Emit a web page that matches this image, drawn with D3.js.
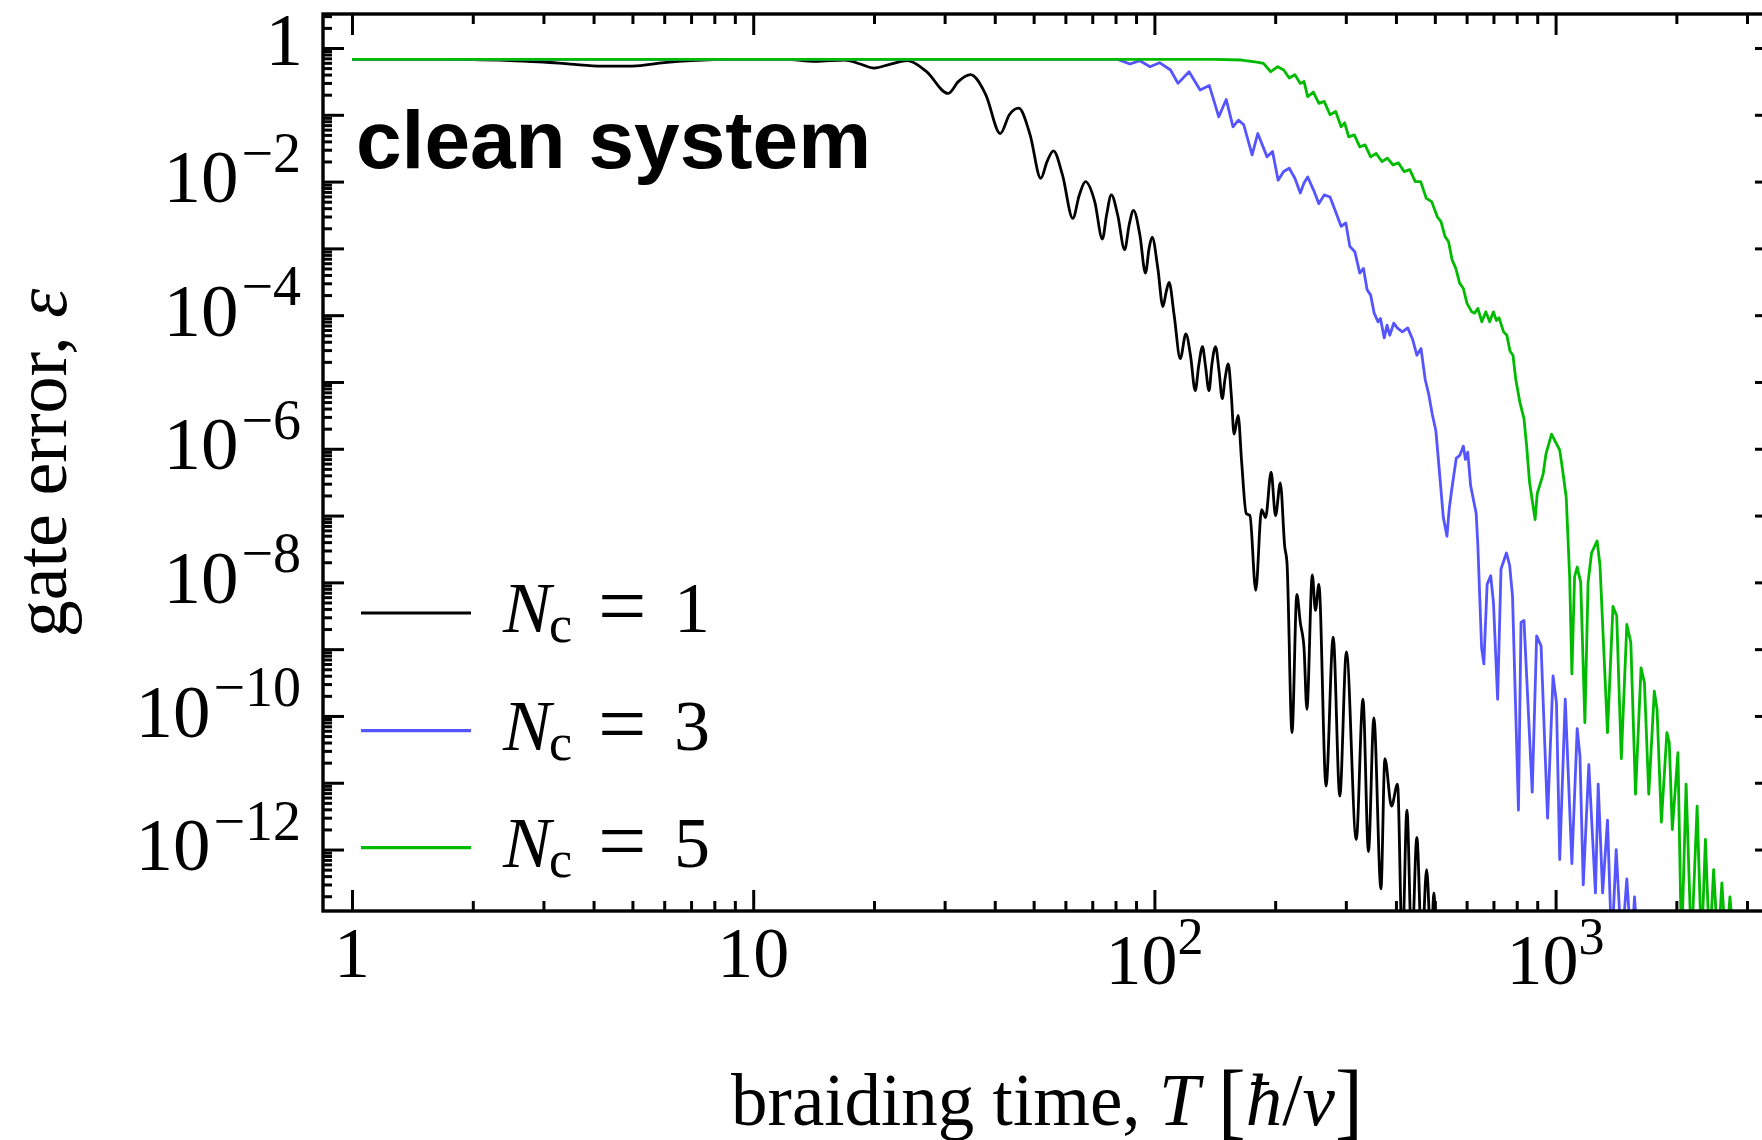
<!DOCTYPE html>
<html>
<meta charset="utf-8">

<!-- Load d3.js -->
<script src="https://d3js.org/d3.v7.js"></script>

<style>
    body { margin: 0; background: #fff; }
    text { font-family: "Liberation Serif", "Times New Roman", serif; fill: #000; }
</style>

<body>
    <div id="my_chart"></div>
    <script>

        // braiding time T [hbar/v] and log10 of the gate error
        var timeN1 = [1, 1.5, 2, 2.5, 3, 3.5, 4.2, 5, 6, 7, 8, 9, 10, 12, 14.3, 16.9, 18.5, 20, 22, 24.2,
            27, 30.6, 32.5, 34.8, 38, 41.3, 43.5, 45.9, 49, 52.1, 54, 56, 59, 62.6, 65, 67.3, 71, 74.2, 76, 78.1,
            81, 84.3, 86.5, 88.7, 92, 95, 97, 98.7, 102, 105, 107, 108.8, 112, 116, 119.8, 123, 126.4, 129, 131.8, 134,
            136.8, 139, 142, 145, 147.6, 150, 152.8, 155.5, 158, 161.7, 165, 169.4, 173, 178.9, 185, 189.3, 195.4, 200.4, 206, 211.3,
            214, 220.3, 226.5, 231, 236, 239.9, 247.5, 252, 257, 267.8, 279, 289.8, 301, 318.5, 331, 341.6, 352.4, 367, 375.4, 390,
            403.6, 415, 426, 438, 451, 464, 477, 490, 497, 504];
        var logErrN1 = [-0.17, -0.17, -0.175, -0.19, -0.21, -0.24, -0.27, -0.27, -0.22, -0.19, -0.175, -0.17, -0.17, -0.17, -0.2, -0.18, -0.24, -0.30, -0.24, -0.19,
            -0.35, -0.68, -0.50, -0.40, -0.7, -1.28, -1.0, -0.90, -1.3, -1.95, -1.7, -1.54, -1.9, -2.55, -2.2, -2.0, -2.3, -2.86, -2.5, -2.2,
            -2.5, -3.02, -2.65, -2.43, -2.8, -3.37, -3.0, -2.83, -3.3, -3.87, -3.65, -3.51, -4.0, -4.65, -4.28, -4.6, -5.13, -4.75, -4.47, -4.75,
            -5.13, -4.75, -4.47, -4.85, -5.25, -4.95, -4.73, -5.2, -5.78, -5.5, -6.2, -6.97, -7.0, -8.12, -6.91, -7.03, -6.35, -7.0, -6.51, -7.47,
            -7.7, -10.25, -8.18, -8.6, -8.98, -9.9, -7.89, -8.42, -8.03, -11.05, -8.82, -11.2, -9.04, -11.85, -9.75, -12.03, -10.03, -12.59, -10.64, -11.35,
            -11.02, -13.5, -11.41, -13.5, -11.82, -13.5, -12.3, -13.5, -12.65, -13.5];

        var timeN3 = [1, 10, 50, 81, 86.9, 92, 97.5, 103, 109.7, 114.5, 122, 130, 137, 144.7, 151, 157, 162, 167, 175.2, 181, 190.9,
            197, 203.4, 210, 216.8, 224, 231, 236, 241, 249, 257, 265, 274, 283, 292, 300, 307, 316, 325, 332, 339, 346, 353, 361, 366, 374, 380, 386, 395, 403, 415, 428, 440,
            451, 462, 473, 483, 493, 503, 512, 525, 536, 543, 551, 565.5, 577, 589, 596, 604, 614, 634, 640, 654,
            662.5, 675, 689, 700, 717, 731, 754, 768, 781, 808, 820, 834, 874.5, 897, 920, 955, 985.6, 1005, 1024, 1057,
            1098, 1132, 1150, 1172, 1210, 1257, 1277, 1310, 1347, 1380, 1416, 1460, 1505, 1545, 1573, 1605];
        var logErrN3 = [-0.17, -0.17, -0.17, -0.17, -0.24, -0.19, -0.28, -0.22, -0.33, -0.53, -0.355, -0.63, -0.56, -1.03, -0.77, -1.18, -1.08, -1.15, -1.60, -1.28, -1.63,
            -1.55, -1.98, -1.85, -1.80, -1.95, -2.17, -2.02, -1.93, -2.12, -2.33, -2.2, -2.23, -2.45, -2.67, -2.62, -2.97, -3.05, -3.37, -3.3, -3.62, -3.7, -3.97, -4.10, -4.05, -4.34, -4.15, -4.30, -4.12, -4.19, -4.25, -4.19, -4.36,
            -4.60, -4.5, -4.96, -5.19, -5.49, -5.73, -6.26, -7.03, -7.31, -6.9, -6.61, -6.14, -6.1, -5.96, -6.16, -6.05, -6.55, -6.97, -7.44, -8.98,
            -9.22, -8.03, -7.9, -8.3, -9.75, -7.8, -7.56, -7.74, -8.21, -11.41, -8.6, -8.57, -11.14, -8.80, -8.95, -11.53, -9.40, -9.8, -12.15, -9.75,
            -12.21, -10.19, -10.6, -12.53, -10.73, -12.65, -11.02, -12.65, -11.56, -13.5, -12.0, -13.5, -12.44, -13.5, -12.71, -13.5];

        var timeN5 = [1, 10, 100, 141.6, 165, 180, 187, 195, 203, 210, 216.8, 224, 231, 236, 241, 249, 257, 265, 274, 283,
            292, 298, 305, 315, 325, 335, 346, 357, 369, 381, 393, 406, 419, 433, 447, 461, 476, 491, 507.5, 518,
            530, 541, 552, 564, 576.5, 589, 601, 618, 628, 640, 655, 670, 685, 700, 712, 723, 742, 756, 770, 783, 795.6, 815, 834, 847,
            861, 889, 900, 931, 946, 977, 1000, 1024, 1040, 1063, 1084, 1098, 1115, 1132, 1155, 1183, 1205, 1229, 1269, 1290,
            1347, 1390, 1420, 1458, 1505, 1540, 1582, 1633, 1665, 1707, 1762, 1790, 1835, 1894, 1920, 1954, 2018, 2060, 2115, 2180,
            2253, 2310, 2363, 2420, 2477, 2540, 2597, 2660, 2720, 2790];
        var logErrN5 = [-0.17, -0.17, -0.17, -0.17, -0.18, -0.21, -0.23, -0.355, -0.28, -0.33, -0.45, -0.40, -0.53, -0.50, -0.73, -0.66, -0.83, -0.80, -1.0, -0.95,
            -1.18, -1.12, -1.33, -1.30, -1.48, -1.45, -1.63, -1.58, -1.70, -1.65, -1.75, -1.72, -1.85, -1.82, -2.0, -2.0, -2.25, -2.3, -2.53, -2.6,
            -2.82, -2.9, -3.17, -3.3, -3.52, -3.6, -3.82, -3.95, -3.97, -3.9, -4.10, -3.95, -4.1, -3.95, -4.08, -4.04, -4.25, -4.3, -4.54, -4.6, -4.96, -5.31, -5.55, -5.96,
            -6.50, -7.06, -6.67, -6.38, -6.08, -5.78, -5.90, -6.02, -6.3, -6.73, -7.92, -9.37, -7.92, -7.77, -8.0, -10.1, -8.0, -7.56, -7.38, -7.74,
            -10.25, -8.36, -8.5, -10.64, -8.63, -8.9, -11.17, -9.28, -9.5, -11.17, -9.63, -9.9, -11.59, -10.25, -10.4, -11.70, -10.55, -13.5, -11.02, -13.5,
            -11.35, -13.5, -11.85, -13.5, -12.30, -13.5, -12.50, -13.5, -12.71, -13.5];

        // legend entries, colours and curve shapes
        var seriesLabels = ["1", "3", "5"];
        var seriesColors = ["#000000", "#5555ff", "#00bb00"];
        var seriesCurves = [d3.curveMonotoneX, d3.curveLinear, d3.curveLinear];

        // tick labels
        var xTickValues = [1, 10, 100, 1000];
        var xTickBase = ["1", "10", "10", "10"];
        var xTickExp = ["", "", "2", "3"];
        var yTickValues = [1, 1e-2, 1e-4, 1e-6, 1e-8, 1e-10, 1e-12];
        var yTickBase = ["1", "10", "10", "10", "10", "10", "10"];
        var yTickExp = ["", "\u22122", "\u22124", "\u22126", "\u22128", "\u221210", "\u221212"];

        // set the dimensions and margins of the graph (right edge runs past the picture)
        var margin = { top: 14, left: 323 },
            width = 1453,
            height = 897;

        var svg = d3.select("#my_chart")
            .append("svg")
            .attr("width", 1762)
            .attr("height", 1140)
            .style("display", "block");

        var g = svg.append("g")
            .attr("transform", "translate(" + margin.left + "," + margin.top + ")");

        // scales
        var x = d3.scaleLog()
            .domain([0.8466, 3543])
            .range([0, width]);
        var y = d3.scaleLog()
            .domain([1.202e-13, 3.228])
            .range([height, 0]);

        // tick positions
        var xMinor = x.ticks().filter(function (d) { return d >= 1 && xTickValues.indexOf(d) < 0; });
        var yMajor = [];
        var yMinor = [];
        for (var e = -13; e <= 0; e++) {
            yMajor.push(Math.pow(10, e));
            for (var k = 2; k <= 9; k++) {
                var v = k * Math.pow(10, e);
                if (v > y.domain()[0] && v < y.domain()[1]) yMinor.push(v);
            }
        }
        yMajor = yMajor.filter(function (d) { return d > y.domain()[0]; });

        function styleAxis(sel) {
            sel.select(".domain").remove();
            sel.selectAll("line").attr("stroke", "#000").attr("stroke-width", 3);
        }

        // x axes, bottom and top, ticks pointing inward
        g.append("g").attr("transform", "translate(0," + height + ")")
            .call(d3.axisBottom(x).tickValues(xTickValues).tickSize(-21).tickFormat(""))
            .call(styleAxis);
        g.append("g").attr("transform", "translate(0," + height + ")")
            .call(d3.axisBottom(x).tickValues(xMinor).tickSize(-10).tickFormat(""))
            .call(styleAxis);
        g.append("g")
            .call(d3.axisTop(x).tickValues(xTickValues).tickSize(-21).tickFormat(""))
            .call(styleAxis);
        g.append("g")
            .call(d3.axisTop(x).tickValues(xMinor).tickSize(-10).tickFormat(""))
            .call(styleAxis);

        // y axes, left and right
        g.append("g")
            .call(d3.axisLeft(y).tickValues(yMajor).tickSize(-21).tickFormat(""))
            .call(styleAxis);
        g.append("g")
            .call(d3.axisLeft(y).tickValues(yMinor).tickSize(-9).tickFormat(""))
            .call(styleAxis);
        g.append("g").attr("transform", "translate(" + width + ",0)")
            .call(d3.axisRight(y).tickValues(yMajor).tickSize(-21).tickFormat(""))
            .call(styleAxis);
        g.append("g").attr("transform", "translate(" + width + ",0)")
            .call(d3.axisRight(y).tickValues(yMinor).tickSize(-9).tickFormat(""))
            .call(styleAxis);

        // clip for the curves
        g.append("clipPath").attr("id", "plotClip")
            .append("rect").attr("width", width).attr("height", height);

        var series = [
            d3.zip(timeN1, logErrN1),
            d3.zip(timeN3, logErrN3),
            d3.zip(timeN5, logErrN5)
        ];

        g.append("g").attr("clip-path", "url(#plotClip)")
            .selectAll("path")
            .data(series)
            .enter()
            .append("path")
            .attr("d", function (d, i) {
                return d3.line()
                    .x(function (p) { return x(p[0]); })
                    .y(function (p) { return y(Math.pow(10, p[1])); })
                    .curve(seriesCurves[i])(d);
            })
            .attr("fill", "none")
            .attr("stroke", function (d, i) { return seriesColors[i]; })
            .attr("stroke-width", 2.8)
            .attr("stroke-linejoin", "round");

        // frame
        g.append("rect")
            .attr("width", width)
            .attr("height", height)
            .attr("fill", "none")
            .attr("stroke", "#000")
            .attr("stroke-width", 3.4);

        // x tick labels
        xTickValues.forEach(function (v, i) {
            var t = g.append("text")
                .attr("x", x(v))
                .attr("y", xTickExp[i] ? height + 73 : height + 66)
                .attr("text-anchor", "middle")
                .style("font-size", "72px")
                .text(xTickBase[i]);
            if (xTickExp[i]) {
                t.append("tspan").attr("dy", -30).style("font-size", "52px").text(xTickExp[i]);
            }
        });

        // y tick labels
        yTickValues.forEach(function (v, i) {
            var t = g.append("text")
                .attr("x", yTickExp[i] ? -22 : -20)
                .attr("y", y(v) + (yTickExp[i] ? 20.6 : 17))
                .attr("text-anchor", "end")
                .style("font-size", "75px")
                .text(yTickBase[i]);
            if (yTickExp[i]) {
                t.append("tspan").attr("dx", 3).attr("dy", -30.6).style("font-size", "56px").text(yTickExp[i]);
            }
        });

        // axis titles
        var xt = svg.append("text")
            .attr("x", 1047)
            .attr("y", 1125)
            .attr("text-anchor", "middle")
            .style("font-size", "73px");
        xt.append("tspan").text("braiding time, ");
        xt.append("tspan").style("font-style", "italic").text("T");
        xt.append("tspan").text(" ");
        xt.append("tspan").style("font-size", "84px").attr("dy", 4).text("[");
        xt.append("tspan").style("font-style", "italic").attr("dy", -4).text("\u0127");
        xt.append("tspan").text("/");
        xt.append("tspan").style("font-style", "italic").text("v");
        xt.append("tspan").style("font-size", "84px").attr("dy", 4).text("]");

        var yt = svg.append("text")
            .attr("transform", "translate(66,463) rotate(-90)")
            .attr("text-anchor", "middle")
            .style("font-size", "74px");
        yt.append("tspan").text("gate error, ");
        yt.append("tspan").style("font-style", "italic").text("\u03b5");

        // panel tag
        svg.append("text")
            .attr("x", 356)
            .attr("y", 168)
            .style("font-family", "'Liberation Sans', Arial, sans-serif")
            .style("font-weight", "bold")
            .style("font-size", "82px")
            .text("clean system");

        // legend
        var legendY = [613, 730.7, 847.7];
        seriesLabels.forEach(function (lab, i) {
            svg.append("line")
                .attr("x1", 361).attr("x2", 471)
                .attr("y1", legendY[i]).attr("y2", legendY[i])
                .attr("stroke", seriesColors[i])
                .attr("stroke-width", 3.2);
            var t = svg.append("text")
                .attr("x", 503)
                .attr("y", legendY[i] + 19)
                .style("font-size", "72px");
            t.append("tspan").style("font-style", "italic").text("N");
            t.append("tspan").attr("dx", -2).attr("dy", 10).style("font-size", "52px").text("c");
            t.append("tspan").attr("x", 598).attr("dy", -7).style("font-size", "86px").text("=");
            t.append("tspan").attr("x", 674).attr("dy", -3).text(lab);
        });

    </script>
</body>

</html>
